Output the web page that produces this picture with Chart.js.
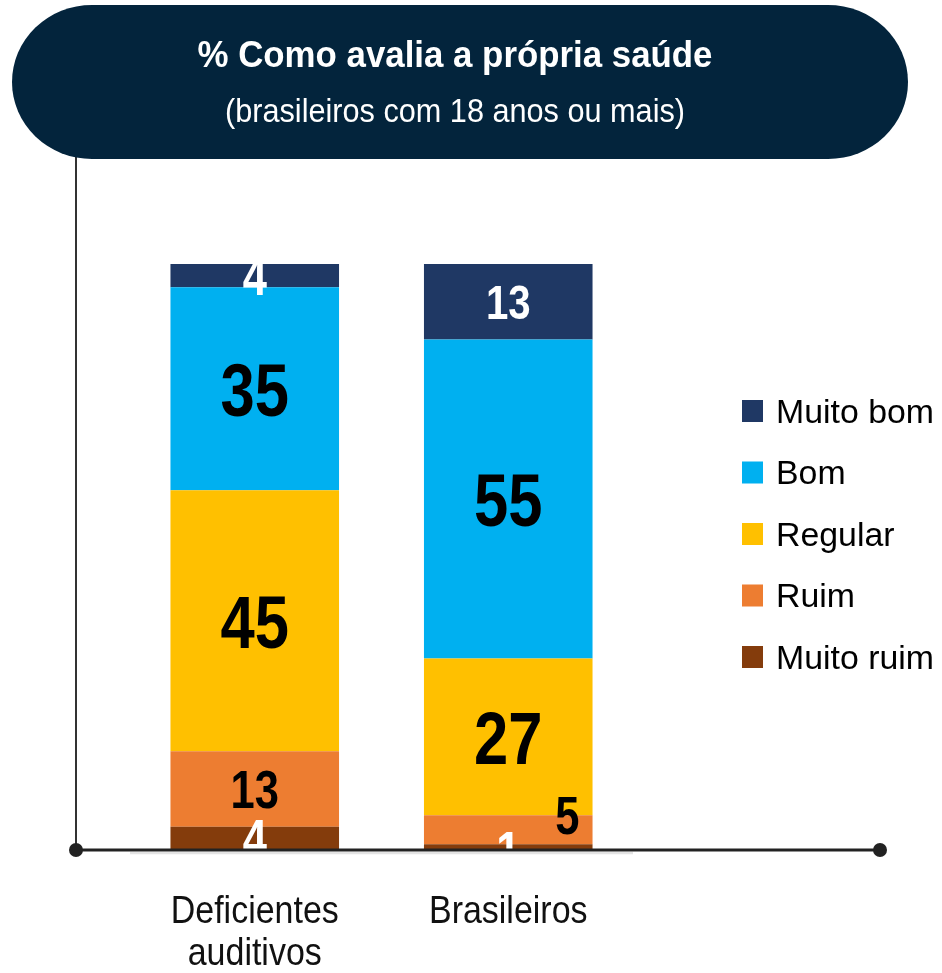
<!DOCTYPE html>
<html>
<head>
<meta charset="utf-8">
<script src="https://cdn.jsdelivr.net/npm/chart.js@4"></script>
<style>
html,body{margin:0;padding:0;background:#fff;}
#wrap{width:942px;height:973px;position:relative;}
</style>
</head>
<body>
<div id="wrap"><canvas id="c" width="942" height="973"></canvas></div>
<script>
const categories = [["Deficientes", "auditivos"], ["Brasileiros"]];
const seriesNames = ["Muito ruim", "Ruim", "Regular", "Bom", "Muito bom"];
const muitoRuim = [4, 1];
const ruim = [13, 5];
const regular = [45, 27];
const bom = [35, 55];
const muitoBom = [4, 13];
const titleText = "% Como avalia a própria saúde";
const subtitleText = "(brasileiros com 18 anos ou mais)";

const colors = ["#843C0C", "#ED7D31", "#FFC000", "#00B0F0", "#1F3864"];
const labelColors = ["#ffffff", "#000000", "#000000", "#000000", "#ffffff"];
const FONT = "'Liberation Sans', Arial, sans-serif";
const values = [muitoRuim, ruim, regular, bom, muitoBom];

function scaledText(ctx, text, x, y, size, weight, sx, align) {
  ctx.save();
  ctx.font = weight + " " + size + "px " + FONT;
  ctx.textBaseline = 'alphabetic';
  ctx.textAlign = 'left';
  const w = ctx.measureText(text).width * sx;
  let x0 = x;
  if (align === 'center') x0 = x - w / 2;
  else if (align === 'right') x0 = x - w;
  ctx.translate(x0, y);
  ctx.scale(sx, 1);
  ctx.fillText(text, 0, 0);
  ctx.restore();
}
function fitScale(ctx, text, size, weight, target) {
  ctx.save();
  ctx.font = weight + " " + size + "px " + FONT;
  const w = ctx.measureText(text).width;
  ctx.restore();
  return target / w;
}

const deco = {
  id: 'deco',
  beforeDraw(chart) {
    const ctx = chart.ctx;
    ctx.save();
    ctx.fillStyle = '#fff';
    ctx.fillRect(0, 0, chart.width, chart.height);
    ctx.strokeStyle = '#333';
    ctx.lineWidth = 2;
    ctx.beginPath();
    ctx.moveTo(76, 150);
    ctx.lineTo(76, chart.chartArea.bottom);
    ctx.stroke();
    ctx.fillStyle = '#03243C';
    ctx.beginPath();
    ctx.ellipse(92, 82, 80, 77, 0, Math.PI / 2, Math.PI * 1.5);
    ctx.lineTo(828, 5);
    ctx.ellipse(828, 82, 80, 77, 0, -Math.PI / 2, Math.PI / 2);
    ctx.closePath();
    ctx.fill();
    ctx.fillStyle = '#fff';
    scaledText(ctx, titleText, 455, 67, 37, 'bold', fitScale(ctx, titleText, 37, 'bold', 515), 'center');
    scaledText(ctx, subtitleText, 455, 122, 33, 'normal', fitScale(ctx, subtitleText, 33, 'normal', 460), 'center');
    ctx.restore();
  },
  afterDatasetsDraw(chart) {
    const ctx = chart.ctx;
    const ca = chart.chartArea;
    ctx.save();
    ctx.beginPath();
    ctx.rect(ca.left - 50, ca.top, ca.right - ca.left + 100, ca.bottom - ca.top + 3);
    ctx.clip();
    chart.data.datasets.forEach((ds, di) => {
      const meta = chart.getDatasetMeta(di);
      meta.data.forEach((bar, i) => {
        const v = ds.data[i];
        let size = v >= 20 ? 75 : 53;
        if (di === 4 && i === 1) size = 49;
        ctx.fillStyle = labelColors[di];
        let x = bar.x, yc = (bar.y + bar.base) / 2;
        if (di === 1 && i === 1) { x += 59; yc -= 15; }
        if (di === 0 && i === 1) { yc += 3; }
        scaledText(ctx, String(v), x, yc + size * 0.716 / 2, size, 'bold', 0.82, 'center');
      });
    });
    ctx.restore();
  },
  afterDraw(chart) {
    const ctx = chart.ctx;
    const yb = chart.chartArea.bottom;
    const xs = chart.scales.x;
    ctx.save();
    ctx.strokeStyle = '#e3e3e3';
    ctx.lineWidth = 2.5;
    ctx.beginPath();
    ctx.moveTo(xs.left + 2, yb + 3);
    ctx.lineTo(xs.right - 2, yb + 3);
    ctx.stroke();
    ctx.strokeStyle = '#222';
    ctx.lineWidth = 3;
    ctx.beginPath();
    ctx.moveTo(76, yb);
    ctx.lineTo(880, yb);
    ctx.stroke();
    ctx.fillStyle = '#222';
    [76, 880].forEach(x => {
      ctx.beginPath();
      ctx.arc(x, yb, 7, 0, Math.PI * 2);
      ctx.fill();
    });
    // category labels
    ctx.fillStyle = '#111';
    const cs = fitScale(ctx, "Deficientes", 39, 'normal', 168);
    chart.data.labels.forEach((lab, i) => {
      const cx = xs.getPixelForValue(i);
      lab.forEach((line, j) => {
        scaledText(ctx, line, cx, 923 + j * 42, 39, 'normal', cs, 'center');
      });
    });
    // legend
    const ls = fitScale(ctx, "Muito bom", 33, 'normal', 158);
    for (let k = 0; k < seriesNames.length; k++) {
      const di = seriesNames.length - 1 - k;
      const yc = 411 + k * 61.5;
      ctx.fillStyle = colors[di];
      ctx.fillRect(742, yc - 11, 21, 22);
      ctx.fillStyle = '#000';
      scaledText(ctx, seriesNames[di], 776, yc + 11.5, 33, 'normal', ls, 'left');
    }
    ctx.restore();
  }
};

new Chart(document.getElementById('c'), {
  type: 'bar',
  data: {
    labels: categories,
    datasets: seriesNames.map((n, i) => ({
      label: n,
      data: values[i],
      backgroundColor: colors[i],
      borderWidth: 0,
      categoryPercentage: 1,
      barPercentage: 0.665
    }))
  },
  options: {
    responsive: false,
    animation: false,
    events: [],
    layout: { padding: { left: 128, right: 307, top: 264, bottom: 123 } },
    plugins: { legend: { display: false }, tooltip: { enabled: false } },
    scales: {
      x: { stacked: true, display: false },
      y: { stacked: true, display: false, min: 0, max: 101 }
    }
  },
  plugins: [deco]
});
</script>
</body>
</html>
